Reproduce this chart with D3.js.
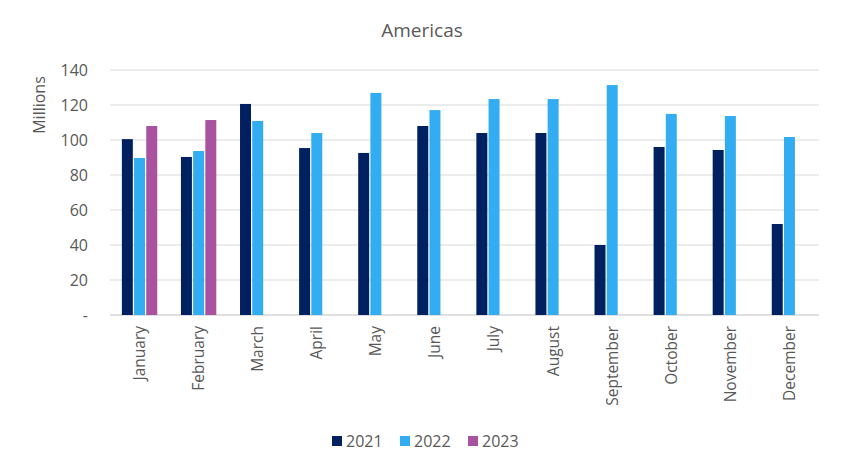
<!DOCTYPE html>
<html>
<head>
<meta charset="utf-8">
<script src="https://cdn.jsdelivr.net/npm/d3@7"></script>
<style>
  body { margin: 0; background: #fff; }
  text { font-family: "Open Sans", "Liberation Sans", sans-serif; fill: #595959; }
</style>
</head>
<body>
<div id="chart"></div>
<script>
const months = ['January', 'February', 'March', 'April', 'May', 'June', 'July', 'August', 'September', 'October', 'November', 'December'];
const years = ['2021', '2022', '2023'];
const values2021 = [100.5, 90.3, 120.6, 95.4, 92.6, 108, 104, 104, 40, 96, 94.3, 52];
const values2022 = [89.7, 93.7, 110.9, 104, 126.9, 117.1, 123.4, 123.4, 131.4, 114.9, 113.7, 101.7];
const values2023 = [108, 111.4, null, null, null, null, null, null, null, null, null, null];
const yTicks = [0, 20, 40, 60, 80, 100, 120, 140];
const colors = ['#002060', '#33adf2', '#a952a0'];

function main() {
  const svgWidth = 842;
  const svgHeight = 473;
  const margin = { top: 70, bottom: 158, left: 110, right: 23 };
  const chartWidth = svgWidth - margin.left - margin.right;
  const chartHeight = svgHeight - margin.top - margin.bottom;

  const series = [values2021, values2022, values2023];
  const data = months.map((m, i) => ({
    month: m,
    vals: years.map((y, j) => ({ year: y, idx: j, value: series[j][i] }))
  }));

  const svg = d3.select('#chart').append('svg')
    .attr('width', svgWidth)
    .attr('height', svgHeight);

  const chartGroup = svg.append('g').attr('transform', `translate(${margin.left}, ${margin.top})`);

  const x0 = d3.scaleBand().domain(months).range([0, chartWidth]).paddingInner(0.36).paddingOuter(0.18);
  const x1 = d3.scaleBand().domain(years).range([0, x0.bandwidth()]).padding(0.1);
  const y = d3.scaleLinear().domain([0, 140]).range([chartHeight, 0]);

  // gridlines
  chartGroup.append('g')
    .selectAll('line')
    .data(yTicks)
    .enter()
    .append('line')
    .attr('x1', 0)
    .attr('x2', chartWidth)
    .attr('y1', d => y(d))
    .attr('y2', d => y(d))
    .attr('stroke', d => d === 0 ? '#bfbfbf' : '#d9d9d9')
    .attr('stroke-width', 1);

  // y axis labels
  const leftAxis = d3.axisLeft(y).tickValues(yTicks).tickSize(0).tickPadding(22)
    .tickFormat(d => d === 0 ? '-' : d);
  const yAxis = chartGroup.append('g').call(leftAxis);
  yAxis.select('.domain').remove();
  yAxis.selectAll('text').attr('font-size', '16px').style('fill', '#595959');

  // bars
  const groups = chartGroup.selectAll('.month')
    .data(data)
    .enter()
    .append('g')
    .attr('transform', d => `translate(${x0(d.month)}, 0)`);

  groups.selectAll('rect')
    .data(d => d.vals.filter(v => v.value !== null))
    .enter()
    .append('rect')
    .attr('x', d => x1(d.year))
    .attr('width', x1.bandwidth())
    .attr('y', d => y(d.value))
    .attr('height', d => chartHeight - y(d.value))
    .attr('fill', d => colors[d.idx]);

  // x labels
  const xAxis = chartGroup.append('g').attr('transform', `translate(0, ${chartHeight})`)
    .call(d3.axisBottom(x0).tickSize(0));
  xAxis.select('.domain').remove();
  xAxis.selectAll('text')
    .attr('font-size', '15.5px')
    .attr('transform', 'rotate(-90)')
    .attr('text-anchor', 'end')
    .attr('x', -11)
    .attr('y', 0)
    .attr('dy', '0.35em')
    .style('fill', '#595959');

  // title
  svg.append('text')
    .attr('x', 422)
    .attr('y', 37)
    .attr('text-anchor', 'middle')
    .attr('font-size', '19px')
    .text('Americas');

  // y title
  svg.append('text')
    .attr('transform', 'translate(45, 105) rotate(-90)')
    .attr('text-anchor', 'middle')
    .attr('font-size', '16px')
    .text('Millions');

  // legend
  const legend = svg.append('g').attr('transform', 'translate(332, 441)');
  const legendItems = legend.selectAll('g')
    .data(years)
    .enter()
    .append('g')
    .attr('transform', (d, i) => `translate(${i * 68}, 0)`);
  legendItems.append('rect')
    .attr('x', 0)
    .attr('y', -5)
    .attr('width', 10)
    .attr('height', 10)
    .attr('fill', (d, i) => colors[i]);
  legendItems.append('text')
    .attr('x', 14)
    .attr('y', 0)
    .attr('dy', '0.35em')
    .attr('font-size', '16px')
    .text(d => d);
}

main();
</script>
</body>
</html>
